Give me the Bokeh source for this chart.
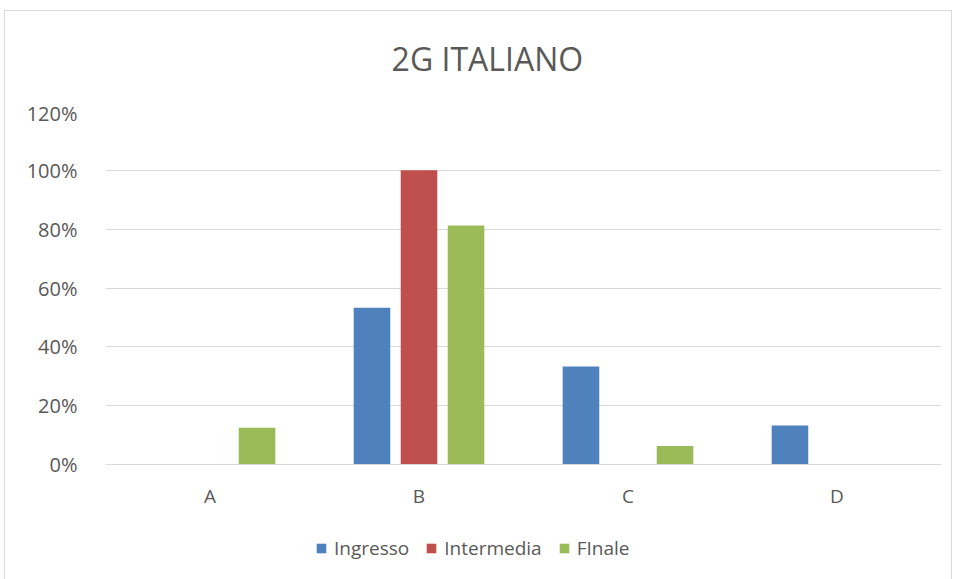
from bokeh.plotting import figure
from bokeh.models import ColumnDataSource, FactorRange, NumeralTickFormatter, Legend, LegendItem, FixedTicker, Range1d, Label
from bokeh.layouts import column
from bokeh.transform import dodge
from bokeh.embed import file_html
from bokeh.resources import INLINE

categories = ["A", "B", "C", "D"]
ingresso = [0.0, 0.533, 0.333, 0.133]
intermedia = [0.0, 1.0, 0.0, 0.0]
finale = [0.125, 0.8125, 0.0625, 0.0]
series_names = ["Ingresso", "Intermedia", "FInale"]
colors = ["#4F81BD", "#C0504D", "#9BBB59"]
y_ticks = [0, 0.2, 0.4, 0.6, 0.8, 1.0, 1.2]
title_text = "2G  ITALIANO"

src = ColumnDataSource(dict(cat=categories, ingresso=ingresso, intermedia=intermedia, finale=finale))
fonts = "Open Sans"

def strip(height, x_range, y_range):
    f = figure(width=946, height=height, output_backend="svg", toolbar_location=None,
               x_range=x_range, y_range=y_range, outline_line_color=None)
    f.min_border_left = 0
    f.min_border_right = 0
    f.min_border_top = 0
    f.min_border_bottom = 0
    f.xaxis.visible = False
    f.yaxis.visible = False
    f.grid.visible = False
    return f

# title strip
tf = strip(88, Range1d(0, 1), Range1d(0, 1))
tf.add_layout(Label(x=386, y=41, x_units="screen", y_units="screen", text=title_text,
                    text_align="center", text_baseline="middle", text_font=fonts,
                    text_font_size="32px", text_color="#595959"))

# main chart
p = figure(width=946, height=419, x_range=FactorRange(*categories, range_padding=0),
           y_range=(0, 1.2), output_backend="svg", toolbar_location=None)
p.min_border_left = 100
p.min_border_right = 10
p.min_border_top = 12
p.min_border_bottom = 54
p.outline_line_color = None
p.border_fill_color = "white"

p.yaxis.ticker = FixedTicker(ticks=y_ticks)
p.yaxis.formatter = NumeralTickFormatter(format="0%")
p.yaxis.axis_line_color = None
p.yaxis.major_tick_line_color = None
p.yaxis.minor_tick_line_color = None
p.yaxis.major_label_text_font = fonts
p.yaxis.major_label_text_font_size = "20px"
p.yaxis.major_label_text_color = "#595959"
p.yaxis.major_label_standoff = 22

p.xaxis.axis_line_color = "#D9D9D9"
p.xaxis.major_tick_line_color = None
p.xaxis.minor_tick_line_color = None
p.xaxis.major_label_text_font = fonts
p.xaxis.major_label_text_font_size = "19px"
p.xaxis.major_label_text_color = "#595959"
p.xaxis.major_label_standoff = 12

p.xgrid.grid_line_color = None
p.ygrid.grid_line_color = "#D9D9D9"
p.ygrid.grid_line_width = 1

offsets = [-0.225, 0.0, 0.225]
fields = ["ingresso", "intermedia", "finale"]
for f, off, c in zip(fields, offsets, colors):
    p.vbar(x=dodge("cat", off, range=p.x_range), top=f, width=0.175, source=src,
           fill_color=c, line_color=None)

# legend strip below the chart (its bars lie outside its y range, only the legend shows)
lg = strip(61, FactorRange(*categories, range_padding=0), Range1d(5, 6))
items = []
for f, off, c, n in zip(fields, offsets, colors, series_names):
    r = lg.vbar(x=dodge("cat", off, range=lg.x_range), top=f, width=0.175, source=src,
                fill_color=c, line_color=None)
    items.append(LegendItem(label=n, renderers=[r]))
legend = Legend(items=items, orientation="horizontal", location=(210, 18),
                label_text_font=fonts, label_text_font_size="19px", label_text_color="#595959",
                glyph_width=12, glyph_height=12, spacing=16, label_standoff=7,
                border_line_color=None, background_fill_alpha=0, margin=0, padding=4)
lg.add_layout(legend, "center")

layout = column(tf, p, lg, spacing=0)
layout.margin = (10, 0, 0, 4)
layout.styles = {"border": "1px solid #D9D9D9"}

open("out.html", "w").write(file_html(layout, INLINE))
